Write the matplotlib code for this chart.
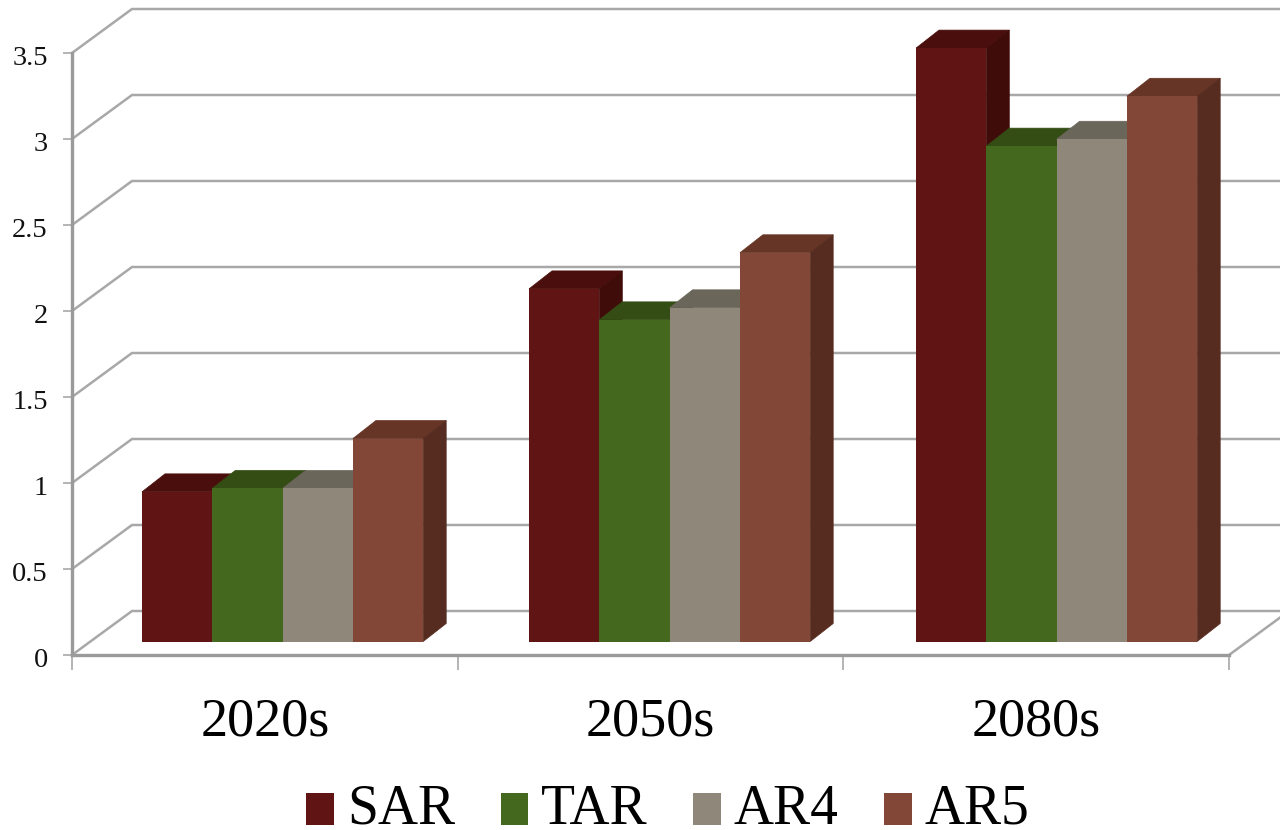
import numpy as np
import matplotlib
matplotlib.use("Agg")
import matplotlib.pyplot as plt
from matplotlib.legend_handler import HandlerPatch
from matplotlib.patches import Rectangle
from matplotlib.transforms import ScaledTranslation

plt.rcParams['font.family'] = ['Liberation Serif', 'DejaVu Serif']

decades = ["2020s", "2050s", "2080s"]
SAR = [0.87, 2.05, 3.45]
TAR = [0.89, 1.87, 2.88]
AR4 = [0.89, 1.94, 2.92]
AR5 = [1.18, 2.26, 3.17]
yticks = [0, 0.5, 1, 1.5, 2, 2.5, 3, 3.5]
yticklabels = ["0", "0.5", "1", "1.5", "2", "2.5", "3", "3.5"]

series = [("SAR", SAR), ("TAR", TAR), ("AR4", AR4), ("AR5", AR5)]
front = ["#601414", "#45681f", "#8f887a", "#834737"]
top = ["#4a0f0c", "#334d14", "#6b665a", "#663525"]
side = ["#400c09", "#2c4210", "#5c574d", "#562b20"]
gray = "#a8a8a8"

W, H = 1280, 830
fig = plt.figure(figsize=(W / 100, H / 100), dpi=100)
# front plane of the fake 3d box, in pixels
left, right, y0, y35 = 72, 1229, 655, 53
ax = fig.add_axes([left / W, 1 - y0 / H, (right - left) / W, (y0 - y35) / H])
ax.set_xlim(0, 3)
ax.set_ylim(0, 3.5)

px = 3 / (right - left)
py = 3.5 / (y0 - y35)
wall_dx, wall_dy = 60 * px, 44 * py      # back wall offset
bar_dy = 13.5 * py                       # bar fronts stand above the front edge
deep_dx, deep_dy = 23 * px, 18 * py      # depth of a bar
bar_w = 70.3 * px
bar_start = 70 * px
group_step = 387 * px

# gridlines on back wall + side wall
for v in yticks:
    ax.plot([0, wall_dx, 3 + wall_dx], [v, v + wall_dy, v + wall_dy],
            color=gray, lw=1.8, clip_on=False, zorder=1, solid_joinstyle="miter")
ax.plot([3, 3 + wall_dx], [0, wall_dy], color=gray, lw=1.8, clip_on=False, zorder=1)

handles = []
z = 3
for g in range(len(decades)):
    for i, (name, vals) in enumerate(series):
        x = bar_start + g * group_step + i * bar_w
        b = bar_dy
        t = b + vals[g]
        ax.fill([x, x + deep_dx, x + bar_w + deep_dx, x + bar_w],
                [t, t + deep_dy, t + deep_dy, t],
                color=top[i], lw=0.5, clip_on=False, zorder=z)
        ax.fill([x + bar_w, x + bar_w + deep_dx, x + bar_w + deep_dx, x + bar_w],
                [b, b + deep_dy, t + deep_dy, t],
                color=side[i], lw=0.5, clip_on=False, zorder=z)
        bars = ax.bar(x, vals[g], bar_w, bottom=b, align="edge", color=front[i],
                      clip_on=False, zorder=z + 0.5)
        if g == 0:
            handles.append(bars[0])
        z += 1

ax.set_xlim(0, 3)
ax.set_ylim(0, 3.5)

for s in ["top", "right"]:
    ax.spines[s].set_visible(False)
for s in ["left", "bottom"]:
    ax.spines[s].set_color("#9a9a9a")
    ax.spines[s].set_linewidth(2.4)
    ax.spines[s].set_zorder(2)

ax.set_yticks(yticks)
ax.set_yticklabels(yticklabels, fontsize=20.5, color="#111111")
ax.tick_params(axis="y", length=6.5, width=1.2, color=gray, pad=11)
# labels sit a little under their ticks in the original
nudge = ScaledTranslation(0, -2 / 100, fig.dpi_scale_trans)
for lab in ax.get_yticklabels():
    lab.set_transform(lab.get_transform() + nudge)

ax.set_xticks([0, 1, 2, 3])
ax.set_xticklabels([])
ax.set_xticks([0.5, 1.5, 2.5], minor=True)
ax.set_xticklabels(decades, minor=True, fontsize=39)
ax.tick_params(axis="x", which="major", length=10.5, width=1.2, color=gray)
ax.tick_params(axis="x", which="minor", length=0, pad=30)


def low_square(legend, orig_handle, xdescent, ydescent, width, height, fontsize):
    # legend squares hang lower than the text centre
    return Rectangle((-xdescent, -ydescent - 3.5), width, height)


fig.legend(handles, [s[0] for s in series], ncol=4, frameon=False, fontsize=40,
           loc="lower center", bbox_to_anchor=(668 / W, -0.007),
           handlelength=0.5, handleheight=0.5, handletextpad=0.23,
           columnspacing=0.82, borderpad=0, borderaxespad=0,
           handler_map={h: HandlerPatch(patch_func=low_square) for h in handles})

fig.savefig("out.png", dpi=100, facecolor="white")
